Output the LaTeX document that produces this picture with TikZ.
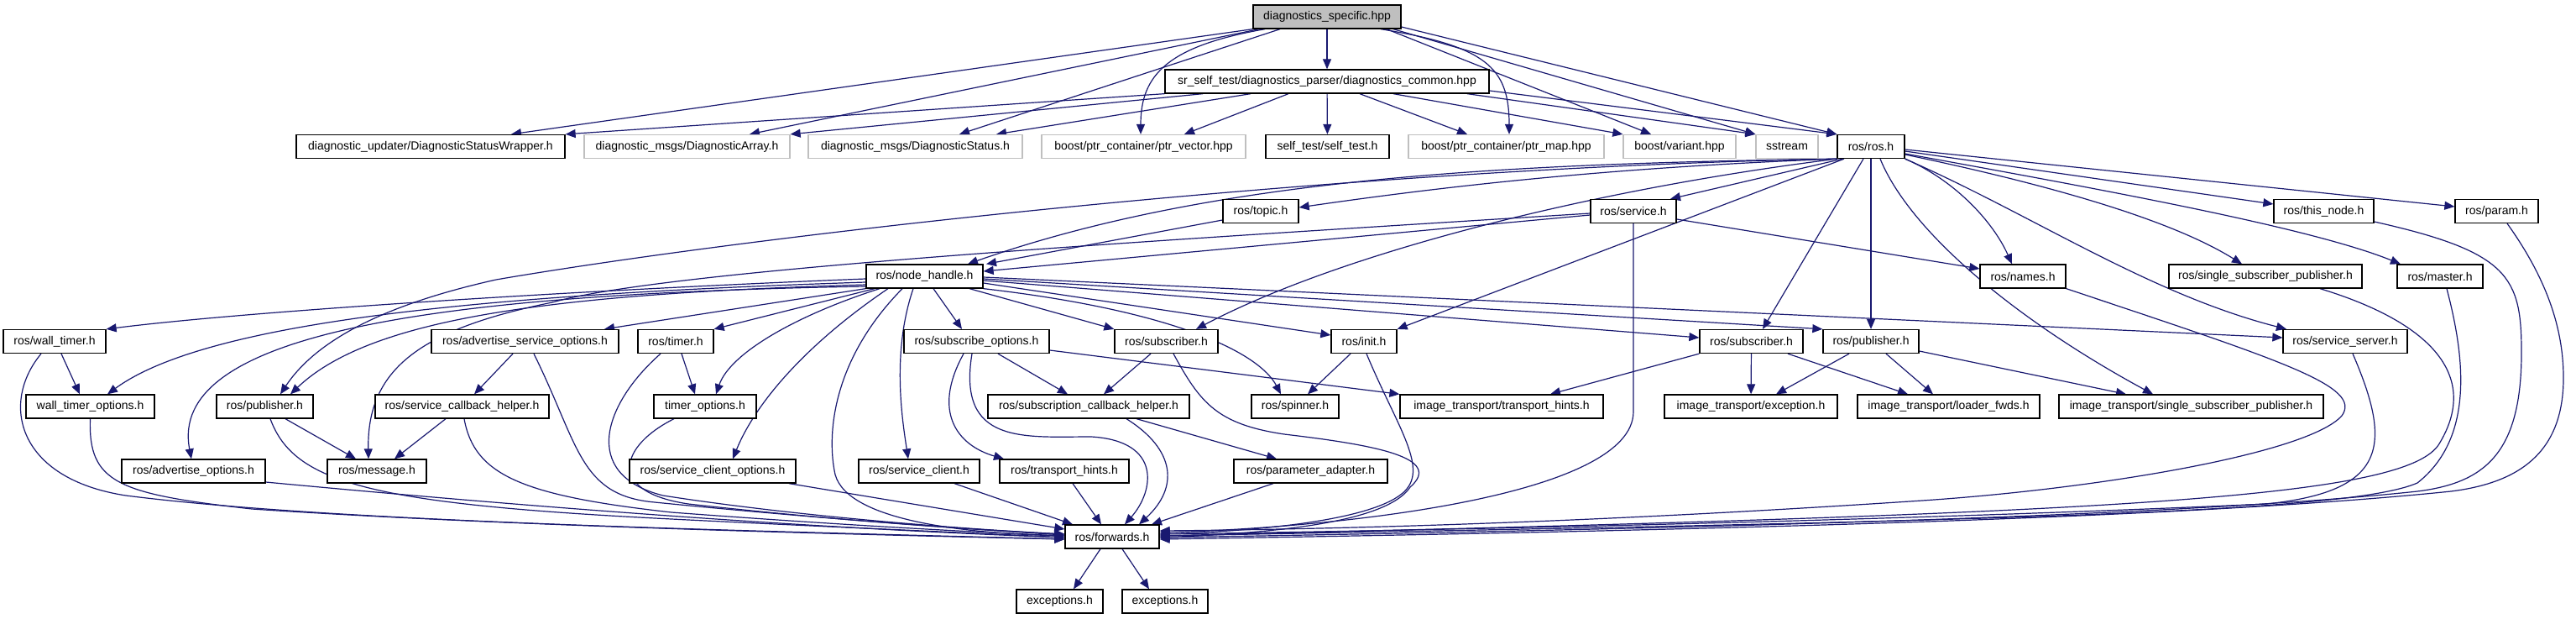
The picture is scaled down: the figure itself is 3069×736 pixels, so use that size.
\documentclass[tikz,border=0pt]{standalone}
\usepackage{fontspec}
\setmainfont{Liberation Sans}
\usetikzlibrary{arrows.meta}
\definecolor{edgec}{RGB}{25,25,112}
\definecolor{greyb}{RGB}{191,191,191}
\newcommand\nodefont{\fontsize{14pt}{16pt}\selectfont}
\pgfdeclarelayer{bg}
\pgfdeclarelayer{paper}
\pgfsetlayers{paper,bg,main}
\tikzset{
  bx/.style={draw=black, line width=1.3pt, fill=white, minimum height=28pt, inner xsep=2pt, inner ysep=0pt, font=\nodefont, text=black},
  gbx/.style={bx, draw=greyb},
  edg/.style={draw=edgec, line width=1.2pt, -{Triangle[length=12pt,width=10pt]}, edgec}
}
\begin{document}
\begin{tikzpicture}[x=1pt,y=-1pt]
\begin{pgfonlayer}{paper}
\fill[white] (0,0) rectangle (3069,736);
\end{pgfonlayer}
\useasboundingbox (0,0) rectangle (3069,736);
% row 0-1
\node[bx, fill=greyb, minimum width=176pt] (dspec) at (1581,20) {diagnostics\_specific.hpp};
\node[bx, minimum width=386pt] (dcommon) at (1581,97) {sr\_self\_test/diagnostics\_parser/diagnostics\_common.hpp};
% row 2
\node[bx, minimum width=320pt] (dsw) at (513,174.5) {diagnostic\_updater/DiagnosticStatusWrapper.h};
\node[gbx, minimum width=245pt] (darr) at (818.5,174.5) {diagnostic\_msgs/DiagnosticArray.h};
\node[gbx, minimum width=255pt] (dstat) at (1090.5,174.5) {diagnostic\_msgs/DiagnosticStatus.h};
\node[gbx, minimum width=243pt] (ptrvec) at (1362.5,174.5) {boost/ptr\_container/ptr\_vector.hpp};
\node[bx, minimum width=147pt] (selftest) at (1581.5,174.5) {self\_test/self\_test.h};
\node[gbx, minimum width=233pt] (ptrmap) at (1794.5,174.5) {boost/ptr\_container/ptr\_map.hpp};
\node[gbx, minimum width=134pt] (variant) at (2001,174.5) {boost/variant.hpp};
\node[gbx, minimum width=74pt] (sstream) at (2129,174.5) {sstream};
\node[bx, minimum width=80pt] (ros) at (2229,174.5) {ros/ros.h};
% row 3
\node[bx, minimum width=90pt] (topic) at (1502,251.5) {ros/topic.h};
\node[bx, minimum width=102pt] (service) at (1946,251.5) {ros/service.h};
\node[bx, minimum width=119pt] (thisnode) at (2768.5,251.5) {ros/this\_node.h};
\node[bx, minimum width=99pt] (param) at (2974.5,251.5) {ros/param.h};
% row 4
\node[bx, minimum width=139pt] (nodehandle) at (1101.5,329) {ros/node\_handle.h};
\node[bx, minimum width=102pt] (names) at (2410,329) {ros/names.h};
\node[bx, minimum width=230pt] (ssp) at (2699,329) {ros/single\_subscriber\_publisher.h};
\node[bx, minimum width=102pt] (master) at (2907,329) {ros/master.h};
% row 5
\node[bx, minimum width=122pt] (walltimer) at (65,406.5) {ros/wall\_timer.h};
\node[bx, minimum width=223pt] (advso) at (625.5,406.5) {ros/advertise\_service\_options.h};
\node[bx, minimum width=90pt] (timer) at (805,406.5) {ros/timer.h};
\node[bx, minimum width=173pt] (subopts) at (1163.5,406.5) {ros/subscribe\_options.h};
\node[bx, minimum width=123pt] (subL) at (1389.5,406.5) {ros/subscriber.h};
\node[bx, minimum width=78pt] (init) at (1625,406.5) {ros/init.h};
\node[bx, minimum width=123pt] (subR) at (2086.5,406.5) {ros/subscriber.h};
\node[bx, minimum width=114pt] (pubR) at (2229,406.5) {ros/publisher.h};
\node[bx, minimum width=148pt] (servserver) at (2794,406.5) {ros/service\_server.h};
% row 6
\node[bx, minimum width=153pt] (wto) at (107.5,484) {wall\_timer\_options.h};
\node[bx, minimum width=115pt] (pubL) at (315.5,484) {ros/publisher.h};
\node[bx, minimum width=207pt] (sch) at (550.5,484) {ros/service\_callback\_helper.h};
\node[bx, minimum width=122pt] (timeropts) at (840,484) {timer\_options.h};
\node[bx, minimum width=240pt] (subcbh) at (1297,484) {ros/subscription\_callback\_helper.h};
\node[bx, minimum width=104pt] (spinner) at (1543,484) {ros/spinner.h};
\node[bx, minimum width=242pt] (ittrans) at (1789,484) {image\_transport/transport\_hints.h};
\node[bx, minimum width=206pt] (itexc) at (2086,484) {image\_transport/exception.h};
\node[bx, minimum width=217pt] (itload) at (2321.5,484) {image\_transport/loader\_fwds.h};
\node[bx, minimum width=315pt] (itssp) at (2610.5,484) {image\_transport/single\_subscriber\_publisher.h};
% row 7
\node[bx, minimum width=171pt] (advopts) at (230.5,561) {ros/advertise\_options.h};
\node[bx, minimum width=118pt] (message) at (449,561) {ros/message.h};
\node[bx, minimum width=198pt] (sco) at (849,561) {ros/service\_client\_options.h};
\node[bx, minimum width=144pt] (sclient) at (1095,561) {ros/service\_client.h};
\node[bx, minimum width=154pt] (thints) at (1268,561) {ros/transport\_hints.h};
\node[bx, minimum width=183pt] (padapter) at (1561.5,561) {ros/parameter\_adapter.h};
% row 8-9
\node[bx, minimum width=112pt] (forwards) at (1325,639) {ros/forwards.h};
\node[bx, minimum width=103pt] (exc1) at (1262.5,716) {exceptions.h};
\node[bx, minimum width=102pt] (exc2) at (1388,716) {exceptions.h};

\begin{pgfonlayer}{bg}
% diagnostics_specific.hpp
\draw[edg] (dspec.south west) -- (dsw.north -| 609,0);
\draw[edg] (dspec.south -| 1500,0) -- (darr.north -| 893,0);
\draw[edg] (dspec.south -| 1525,0) -- (dstat.north -| 1143,0);
\draw[edg] (dspec.south -| 1507,0) .. controls (1390,55) and (1359,90) .. (ptrvec.north -| 1359,0);
\draw[edg] (dspec) -- (dcommon);
\draw[edg] (dspec.south -| 1645,0) .. controls (1770,55) and (1798,80) .. (ptrmap.north -| 1798,0);
\draw[edg] (dspec.south -| 1652,0) -- (variant.north -| 1967,0);
\draw[edg] (dspec.south -| 1660,0) -- (sstream.north west);
\draw[edg] (dspec.east |- 0,32) -- (ros.north west);
% diagnostics_common.hpp
\draw[edg] (dcommon.south west) -- (dsw.north east);
\draw[edg] (dcommon.south -| 1433,0) -- (darr.north east);
\draw[edg] (dcommon.south -| 1490,0) -- (dstat.north -| 1187,0);
\draw[edg] (dcommon.south -| 1535,0) -- (ptrvec.north -| 1411,0);
\draw[edg] (dcommon) -- (selftest);
\draw[edg] (dcommon.south -| 1620,0) -- (ptrmap.north -| 1748,0);
\draw[edg] (dcommon.south -| 1660,0) -- (variant.north west);
\draw[edg] (dcommon.south -| 1748,0) -- (sstream.north west);
\draw[edg] (dcommon.east |- 0,108) -- (ros.north west);
% ros/ros.h
\draw[edg] (ros.south west) .. controls (1900,200) and (1700,225) .. (topic.east |- 0,247);
\draw[edg] (ros.south -| 2195,0) -- (service.north -| 1990,0);
\draw[edg] (ros.south west) .. controls (1800,195) and (1450,210) .. (nodehandle.north -| 1153,0);
\draw[edg] (ros.south west) .. controls (1600,200) and (900,280) .. (591,333) .. controls (470,360) and (380,400) .. (pubL.north -| 334,0);
\draw[edg] (ros.south east) .. controls (2330,215) and (2375,265) .. (names.north -| 2397,0);
\draw[edg] (ros.east |- 0,180) -- (thisnode.west |- 0,243);
\draw[edg] (ros.east |- 0,178) -- (param.west |- 0,246);
\draw[edg] (ros.east |- 0,184) .. controls (2480,228) and (2600,270) .. (ssp.north -| 2671,0);
\draw[edg] (ros.east |- 0,183) .. controls (2500,225) and (2750,270) .. (master.north -| 2860,0);
\draw[edg] (ros.south east) .. controls (2420,255) and (2560,350) .. (servserver.north -| 2724,0);
\draw[edg] (ros.south -| 2240,0) .. controls (2275,275) and (2400,380) .. (itssp.north -| 2565,0);
\draw[edg] (ros) -- (pubR);
\draw[edg] (ros.south -| 2220,0) -- (subR.north -| 2100,0);
\draw[edg] (ros.south -| 2197,0) -- (init.north east);
\draw[edg] (ros.south west) .. controls (1900,225) and (1600,300) .. (subL.north -| 1425,0);
% ros/service.h
\draw[edg] (service.west |- 0,256) -- (nodehandle.east |- 0,323);
\draw[edg] (service.west |- 0,254) .. controls (1400,285) and (800,320) .. (658,360) .. controls (500,392) and (437,440) .. (message.north -| 439,0);
\draw[edg] (service.east |- 0,261) -- (names.west |- 0,320);
\draw[edg] (service.south) -- (1946,490) .. controls (1946,590) and (1600,628) .. (forwards.east |- 0,634);
% ros/topic.h
\draw[edg] (topic.west |- 0,262) -- (nodehandle.north -| 1175,0);
% ros/node_handle.h
\draw[edg] (nodehandle.west |- 0,332) .. controls (700,345) and (300,370) .. (walltimer.north east);
\draw[edg] (nodehandle.west |- 0,336) .. controls (600,350) and (250,380) .. (wto.north -| 128,0);
\draw[edg] (nodehandle.west |- 0,339) .. controls (650,350) and (440,380) .. (pubL.north -| 346,0);
\draw[edg] (nodehandle.west |- 0,341) .. controls (500,350) and (200,400) .. (advopts.north -| 228,0);
\draw[edg] (nodehandle.south west) -- (advso.north -| 720,0);
\draw[edg] (nodehandle.south -| 1042,0) -- (timer.north east);
\draw[edg] (nodehandle.south -| 1048,0) .. controls (950,375) and (870,420) .. (timeropts.north -| 853,0);
\draw[edg] (nodehandle.south -| 1058,0) .. controls (960,410) and (900,480) .. (sco.north -| 873,0);
\draw[edg] (nodehandle.south -| 1075,0) .. controls (990,430) and (985,520) .. (995,565) .. controls (1010,620) and (1150,635) .. (forwards.west |- 0,638);
\draw[edg] (nodehandle.south -| 1088,0) .. controls (1062,420) and (1075,500) .. (sclient.north -| 1082,0);
\draw[edg] (nodehandle.south -| 1112,0) -- (subopts.north -| 1146,0);
\draw[edg] (nodehandle.south -| 1155,0) -- (subL.north west);
\draw[edg] (nodehandle.south east) .. controls (1400,370) and (1500,420) .. (spinner.north -| 1526,0);
\draw[edg] (nodehandle.east |- 0,337) -- (init.west |- 0,399);
\draw[edg] (nodehandle.east |- 0,334) -- (subR.west |- 0,402);
\draw[edg] (nodehandle.east |- 0,332) -- (pubR.north west);
\draw[edg] (nodehandle.east |- 0,330) -- (servserver.west |- 0,402);
% left group
\draw[edg] (walltimer.south -| 73,0) -- (wto.north -| 95,0);
\draw[edg] (walltimer.south -| 49,0) .. controls (0,480) and (20,570) .. (150,590) .. controls (400,622) and (900,632) .. (forwards.west |- 0,642);
\draw[edg] (wto.south) .. controls (105,575) and (140,588) .. (300,606) .. controls (600,626) and (1000,636) .. (forwards.west |- 0,642);
\draw[edg] (pubL.south -| 340,0) -- (message.north -| 424,0);
\draw[edg] (pubL.south -| 322,0) .. controls (350,575) and (440,600) .. (800,618) .. controls (1000,628) and (1150,634) .. (forwards.west |- 0,640);
\draw[edg] (advso.south -| 611,0) -- (sch.north -| 565,0);
\draw[edg] (advso.south -| 636,0) .. controls (690,530) and (690,590) .. (780,598) .. controls (950,615) and (1150,630) .. (forwards.west |- 0,637);
\draw[edg] (sch.south -| 531,0) -- (message.north -| 470,0);
\draw[edg] (sch.south -| 553,0) .. controls (565,565) and (620,590) .. (800,610) .. controls (1000,625) and (1150,633) .. (forwards.west |- 0,638);
\draw[edg] (advopts.east |- 0,574) .. controls (700,610) and (1000,630) .. (forwards.west |- 0,640);
\draw[edg] (timer.south -| 812,0) -- (timeropts.north -| 828,0);
\draw[edg] (timer.south -| 787,0) .. controls (720,480) and (690,565) .. (790,590) .. controls (950,615) and (1150,630) .. (forwards.west |- 0,636);
\draw[edg] (timeropts.south -| 803,0) .. controls (740,530) and (720,585) .. (820,600) .. controls (1000,620) and (1150,630) .. (forwards.west |- 0,636);
\draw[edg] (sco.south -| 940,0) -- (forwards.west |- 0,630);
\draw[edg] (sclient.south -| 1137,0) -- (forwards.north -| 1278,0);
% subscribe options / subscriber
\draw[edg] (subopts.south -| 1189,0) -- (subcbh.north -| 1272,0);
\draw[edg] (subopts.south -| 1148,0) .. controls (1110,490) and (1140,530) .. (thints.north -| 1196,0);
\draw[edg] (subopts.south -| 1158,0) .. controls (1140,530) and (1220,520) .. (1300,520) .. controls (1385,525) and (1375,585) .. (forwards.north -| 1340,0);
\draw[edg] (subopts.east |- 0,417) -- (ittrans.north west);
\draw[edg] (subL.south -| 1371,0) -- (subcbh.north -| 1315,0);
\draw[edg] (subL.south -| 1398,0) .. controls (1430,480) and (1450,505) .. (1530,517) .. controls (1640,530) and (1720,545) .. (1680,580) .. controls (1650,625) and (1500,635) .. (forwards.east |- 0,640);
\draw[edg] (subcbh.south -| 1354,0) -- (padapter.north -| 1521,0);
\draw[edg] (subcbh.south -| 1342,0) .. controls (1400,535) and (1405,580) .. (forwards.north -| 1357,0);
\draw[edg] (thints.south -| 1278,0) -- (forwards.north -| 1312,0);
\draw[edg] (padapter.south -| 1517,0) -- (forwards.north -| 1372,0);
% init
\draw[edg] (init.south -| 1609,0) -- (spinner.north -| 1558,0);
\draw[edg] (init.south -| 1628,0) .. controls (1665,510) and (1705,560) .. (1670,588) .. controls (1630,620) and (1500,632) .. (forwards.east |- 0,636);
% image_transport subscriber / publisher
\draw[edg] (subR.south west) -- (ittrans.north -| 1847,0);
\draw[edg] (subR) -- (itexc);
\draw[edg] (subR.south -| 2130,0) -- (itload.north -| 2273,0);
\draw[edg] (pubR.south -| 2203,0) -- (itexc.north -| 2116,0);
\draw[edg] (pubR.south -| 2247,0) -- (itload.north -| 2303,0);
\draw[edg] (pubR.east |- 0,418) -- (itssp.north -| 2533,0);
% right group to forwards
\draw[edg] (servserver.south -| 2803,0) .. controls (2850,530) and (2845,585) .. (2700,600) .. controls (2300,618) and (1800,630) .. (forwards.east |- 0,636);
\draw[edg] (names.south east) .. controls (2720,430) and (2815,460) .. (2790,495) .. controls (2750,540) and (2500,582) .. (2290,596) .. controls (1900,622) and (1600,630) .. (forwards.east |- 0,632);
\draw[edg] (ssp.south -| 2764,0) .. controls (2900,385) and (2955,450) .. (2905,530) .. controls (2860,595) and (2500,612) .. (forwards.east |- 0,638);
\draw[edg] (master.south -| 2915,0) .. controls (2935,420) and (2950,520) .. (2880,575) .. controls (2800,610) and (2400,620) .. (forwards.east |- 0,638);
\draw[edg] (thisnode.east |- 0,264) .. controls (2990,300) and (3004,330) .. (3004,420) .. controls (3004,540) and (2960,575) .. (2880,585) .. controls (2600,615) and (2000,630) .. (forwards.east |- 0,640);
\draw[edg] (param.south -| 2987,0) .. controls (3040,340) and (3054,400) .. (3054,450) .. controls (3054,540) and (3000,575) .. (2920,585) .. controls (2600,618) and (2000,632) .. (forwards.east |- 0,642);
% forwards
\draw[edg] (forwards.south -| 1311,0) -- (exc1.north -| 1279,0);
\draw[edg] (forwards.south -| 1337,0) -- (exc2.north -| 1369,0);
\end{pgfonlayer}
\end{tikzpicture}
\end{document}
